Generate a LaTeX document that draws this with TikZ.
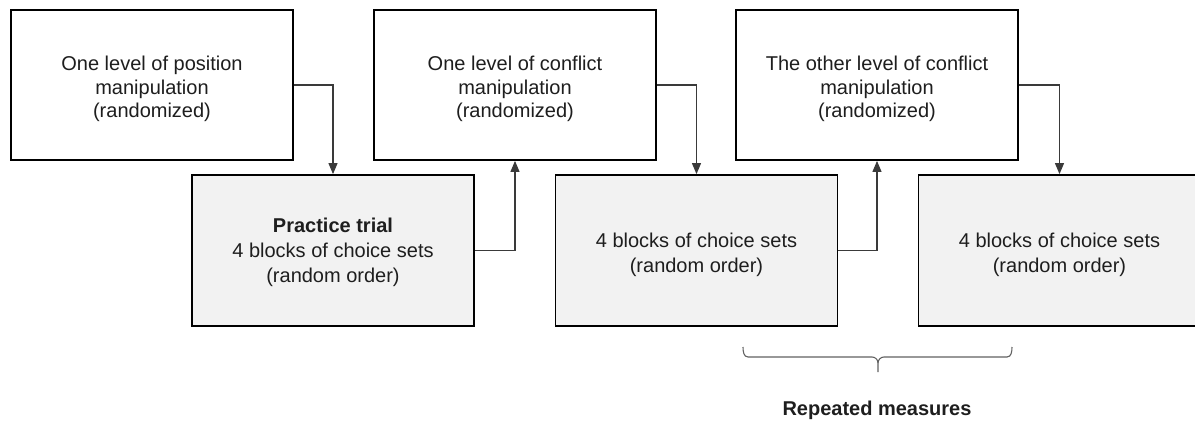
\documentclass[tikz,border=0pt]{standalone}
\usepackage{fontspec}
\setmainfont{Liberation Sans}
\usetikzlibrary{arrows.meta}
\definecolor{boxgray}{HTML}{F2F2F2}
\definecolor{txt}{HTML}{1E1E1E}
\definecolor{lnk}{HTML}{3A3A3A}
\newcommand{\tsp}[1]{\rule{0pt}{#1}}
\begin{document}
\begin{tikzpicture}[x=1pt,y=-1pt,
  box/.style={draw=black, line width=1.8pt, minimum width=282pt, minimum height=150pt,
    inner sep=0pt, align=center, text=txt},
  upperbox/.style={box, fill=white, font=\fontsize{20}{23.5}\selectfont},
  lowerbox/.style={box, fill=boxgray, minimum height=151pt, font=\fontsize{20}{25}\selectfont},
  conn/.style={draw=lnk, line width=1.1pt, -{Triangle[length=11pt,width=9pt]}},
  bracepath/.style={draw=lnk!80, line width=1.1pt},
  ]
\useasboundingbox (0,0) rectangle (1195,421);
\clip (0,0) rectangle (1195,421);

\node[upperbox] (a) at (152,85)  {\tsp{22.3pt}One level of position\\manipulation\\(randomized)};
\node[lowerbox] (b) at (333,250.5) {\tsp{18.3pt}\textbf{Practice trial}\\4 blocks of choice sets\\(random order)};
\node[upperbox] (c) at (515,85)  {\tsp{22.3pt}One level of conflict\\manipulation\\(randomized)};
\node[lowerbox] (d) at (696.5,250.5) {\tsp{22.8pt}4 blocks of choice sets\\(random order)};
\node[upperbox] (e) at (877,85)  {\tsp{22.3pt}The other level of conflict\\manipulation\\(randomized)};
\node[lowerbox] (f) at (1059.5,250.5) {\tsp{22.8pt}4 blocks of choice sets\\(random order)};

\draw[conn] (a.east) -| (b.north);
\draw[conn] (b.east) -| (c.south);
\draw[conn] (c.east) -| (d.north);
\draw[conn] (d.east) -| (e.south);
\draw[conn] (e.east) -| (f.north);

\coordinate (bl) at (743,347);
\coordinate (br) at (1012,347);
\coordinate (bt) at (878,372);
\draw[bracepath] (bl) to[out=-90,in=180] (748,357) -- (872,357) to[out=0,in=90] (878,363) -- (bt);
\draw[bracepath] (br) to[out=-90,in=0] (1007,357) -- (884,357) to[out=180,in=90] (878,363);

\node[font=\fontsize{20}{23.5}\selectfont\bfseries, text=txt] (rm) at (877,410) {Repeated measures};
\end{tikzpicture}
\end{document}
